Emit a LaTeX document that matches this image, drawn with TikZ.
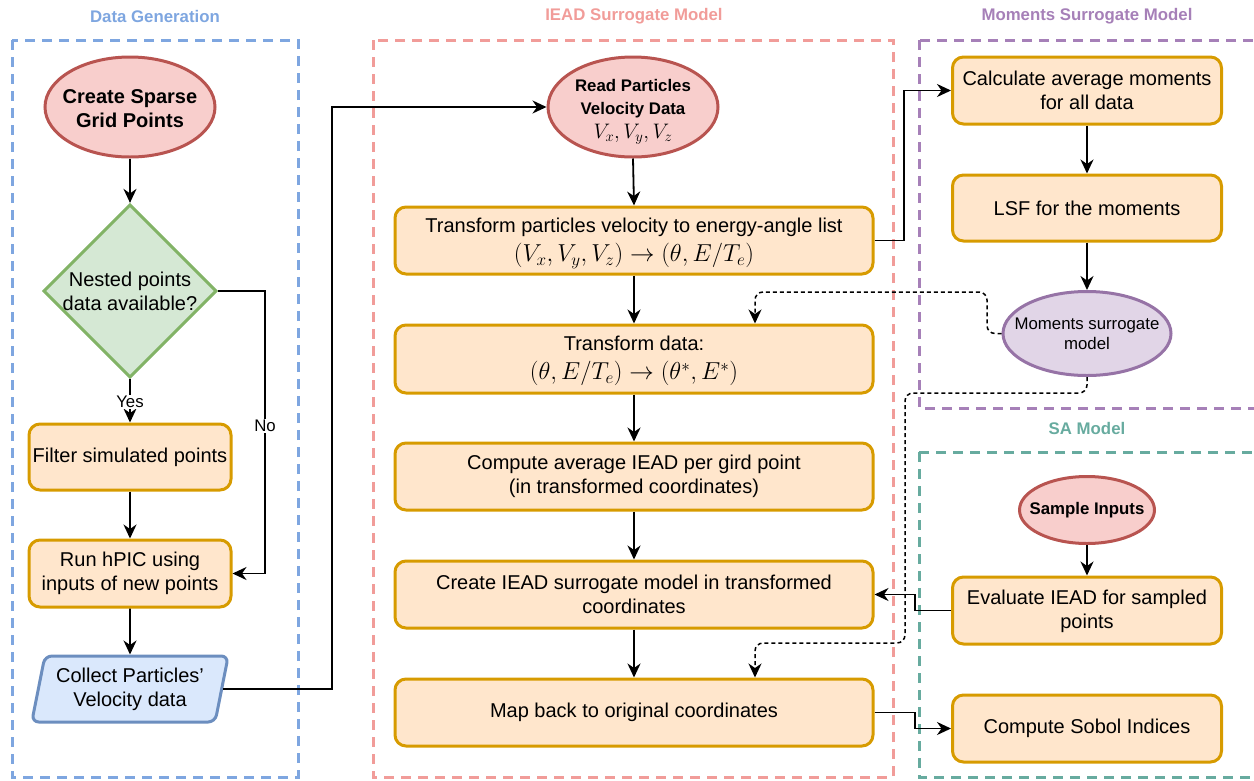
\RequirePackage{fix-cm}
\documentclass[tikz,border=0pt]{standalone}
\usepackage{fontspec}
\setmainfont{Liberation Sans}
\usetikzlibrary{shapes.geometric,arrows.meta}
\definecolor{orgfill}{HTML}{FFE6CC}
\definecolor{orgdraw}{HTML}{D79B00}
\definecolor{redfill}{HTML}{F8CECC}
\definecolor{reddraw}{HTML}{B85450}
\definecolor{grnfill}{HTML}{D5E8D4}
\definecolor{grndraw}{HTML}{82B366}
\definecolor{blufill}{HTML}{DAE8FC}
\definecolor{bludraw}{HTML}{6C8EBF}
\definecolor{purfill}{HTML}{E1D5E7}
\definecolor{purdraw}{HTML}{9673A6}
\definecolor{cblue}{HTML}{7EA6E0}
\definecolor{cpink}{HTML}{F19C99}
\definecolor{cpurp}{HTML}{A680B8}
\definecolor{cgreen}{HTML}{67AB9F}
\newcommand{\fmain}{\fontsize{20}{24}\selectfont}
\newcommand{\fsml}{\fontsize{16.8}{20}\selectfont}
\newcommand{\fmath}{\fontsize{24.5}{29}\selectfont}
\tikzset{
  proc/.style={draw=orgdraw, fill=orgfill, line width=3pt, rounded corners=11pt,
    inner sep=0pt, align=center, font=\fmain},
  wide/.style={proc, minimum width=478pt, minimum height=67pt},
  narrow/.style={proc, minimum width=202pt, minimum height=66pt},
  right/.style={proc, minimum width=269pt, minimum height=67pt},
  ovl/.style={ellipse, line width=3pt, inner xsep=-30pt, inner ysep=-12pt, align=center},
  oval/.style={ovl, draw=reddraw, fill=redfill},
  container/.style={line width=3pt, dash pattern=on 10pt off 7pt},
  ctitle/.style={font=\fsml\bfseries},
  conn/.style={line width=1.8pt, -{Stealth[length=14pt,width=13pt,inset=4.5pt]}},
  dconn/.style={line width=1.5pt, dash pattern=on 4pt off 3pt, rounded corners=8pt,
    -{Stealth[length=14pt,width=13pt,inset=4.5pt]}},
  lbl/.style={fill=white, inner sep=1pt, font=\fsml}
}
\begin{document}
\begin{tikzpicture}[x=1pt,y=-1pt]
\useasboundingbox (0,0) rectangle (1254,780);
% containers
\draw[container, draw=cblue] (12,40) rectangle (298,777);
\draw[container, draw=cpink] (373,40) rectangle (893,777);
\draw[container, draw=cpurp] (919,40) rectangle (1262,408);
\draw[container, draw=cgreen] (919,452) rectangle (1262,777);
\node[ctitle, text=cblue] (t1) at (155,16) {Data Generation};
\node[ctitle, text=cpink] (t2) at (634,16) {IEAD Surrogate Model};
\node[ctitle, text=cpurp] (t3) at (1087,16) {Moments Surrogate Model};
\node[ctitle, text=cgreen] (t4) at (1087,428) {SA Model};

% Data generation column
\node[oval, minimum width=170pt, minimum height=100pt, font=\fmain\bfseries] (csg) at (130,107) {\rule{0pt}{17pt}Create Sparse\\Grid Points};
\node[diamond, draw=grndraw, fill=grnfill, line width=3pt, inner sep=0pt,
      minimum width=170pt, minimum height=168pt, align=center, font=\fmain] (nest) at (130,291) {Nested points\\data available?};
\node[narrow] (filt) at (130,457) {Filter simulated points};
\node[narrow, minimum height=67pt] (run) at (130,573.5) {Run hPIC using\\inputs of new points};
\node[trapezium, trapezium left angle=75, trapezium right angle=105, trapezium stretches=true,
      draw=bludraw, fill=blufill, line width=3pt, rounded corners=7pt, inner sep=0pt,
      minimum width=197pt, minimum height=66pt, align=center, font=\fmain] (coll) at (130,689) {Collect Particles'\\Velocity data};

% IEAD column
\node[oval, minimum width=170pt, minimum height=100pt, font=\fsml\bfseries] (read) at (633,107)
  {\rule{0pt}{21pt}Read Particles\\[3pt]Velocity Data\\[4pt]{\fontsize{21}{24}\selectfont\mdseries $V_x, V_y, V_z$}};
\node[wide] (tp) at (634,240.5) {\rule{0pt}{20pt}Transform particles velocity to energy-angle list\\[5pt]{\fmath $(V_x, V_y, V_z) \rightarrow (\theta, E/T_e)$}};
\node[wide, minimum height=68pt] (td) at (634,359) {\rule{0pt}{19pt}Transform data:\\[5pt]{\fmath $(\theta, E/T_e) \rightarrow (\theta^{*}, E^{*})$}};
\node[wide] (cav) at (634,476.5) {Compute average IEAD per gird point\\(in transformed coordinates)};
\node[wide] (cis) at (634,594.5) {Create IEAD surrogate model in transformed\\coordinates};
\node[wide] (mb) at (634,712.5) {Map back to original coordinates};

% Moments column
\node[right] (calc) at (1087,90.5) {Calculate average moments\\for all data};
\node[right, minimum height=66pt] (lsf) at (1087,208) {LSF for the moments};
\node[ovl, draw=purdraw, fill=purfill, minimum width=168pt, minimum height=84pt, font=\fsml] (msm) at (1087,333.5) {Moments surrogate\\model};

% SA column
\node[oval, minimum width=135pt, minimum height=67pt, font=\fsml\bfseries] (samp) at (1087,510) {Sample Inputs};
\node[right] (eval) at (1087,610.5) {\rule{0pt}{17pt}Evaluate IEAD for sampled\\points};
\node[right] (sobol) at (1087,728.5) {Compute Sobol Indices};

% bend coordinates
\coordinate (bno) at (265,400);
\coordinate (b1) at (332,400);
\coordinate (b2) at (904,150);
\coordinate (b3) at (915,600);
\coordinate (b4) at (915,720);
\coordinate (d1) at (987,292);
\coordinate (d2) at (755,292);
\coordinate (e1) at (905,393);
\coordinate (e2) at (755,643);

% connectors
\draw[conn] (csg.south) -- (nest.north);
\draw[conn] (nest.south) -- (filt.north) node[lbl, pos=0.53] (yes) {Yes};
\draw[conn] (nest.east) -| (bno) |- (run.east);
\node[lbl] (no) at (265,426) {No};
\draw[conn] (filt.south) -- (run.north);
\draw[conn] (run.south) -- (coll.north);
\draw[conn] (coll.east) -| (b1) |- (read.west);
\draw[conn] (read.south) -- (tp.north);
\draw[conn] (tp.south) -- (td.north);
\draw[conn] (td.south) -- (cav.north);
\draw[conn] (cav.south) -- (cis.north);
\draw[conn] (cis.south) -- (mb.north);
\draw[conn] (tp.east) -| (b2) |- (calc.west);
\draw[conn] (calc.south) -- (lsf.north);
\draw[conn] (lsf.south) -- (msm.north);
\draw[conn] (samp.south) -- (eval.north);
\draw[conn] (eval.west) -| (b3) |- (cis.east);
\draw[conn] (mb.east) -| (b4) |- (sobol.west);
\draw[dconn] (msm.west) -| (d1) -- (d2) -- (d2 |- td.north);
\draw[dconn] (msm.south) |- (e1) |- (e2) -- (e2 |- mb.north);
\end{tikzpicture}
\end{document}
